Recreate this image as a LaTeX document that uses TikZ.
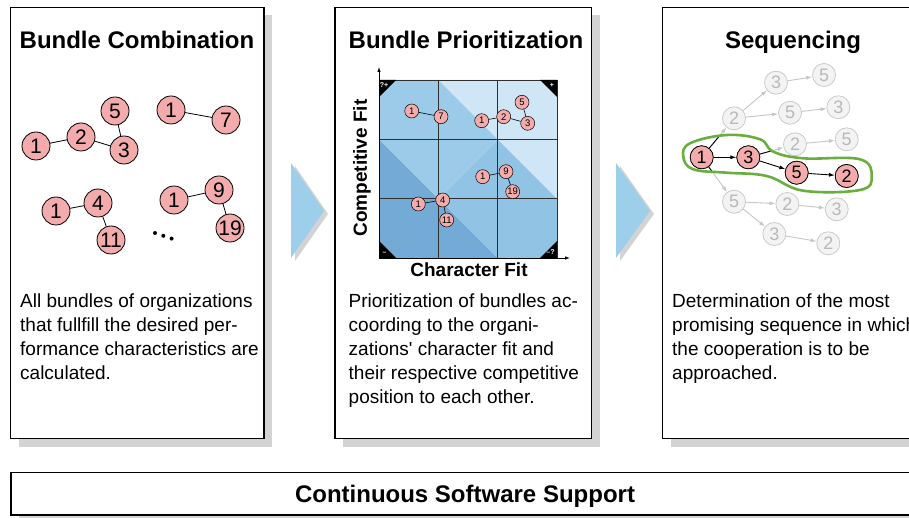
\documentclass[tikz,border=0pt]{standalone}
\usepackage{fontspec}
\setmainfont{Liberation Sans}
\usetikzlibrary{arrows.meta,calc}
\definecolor{shadowgray}{HTML}{D3D3D3}
\definecolor{flowblue}{HTML}{9DCFEB}
\definecolor{nodepink}{HTML}{F3ABAB}
\definecolor{ghostline}{HTML}{C6C6C6}
\definecolor{ghostfill}{HTML}{F3F3F3}
\definecolor{ghosttext}{HTML}{B8B8B8}
\definecolor{pathgreen}{HTML}{6AAE3E}
\definecolor{bandDark}{HTML}{74AAD6}
\definecolor{bandMidA}{HTML}{9CCAE9}
\definecolor{bandMidB}{HTML}{91C3E5}
\definecolor{bandLight}{HTML}{CFE6F6}
\definecolor{gridgray}{HTML}{2E2E2E}
\begin{document}
\begin{tikzpicture}[x=1pt,y=-1pt,
  panel/.style={draw=black,line width=1.4pt,fill=white},
  title/.style={font=\fontsize{24}{28}\selectfont\bfseries,anchor=base,inner sep=0pt},
  body/.style={font=\fontsize{19}{24}\selectfont,align=left,anchor=north west,inner sep=0pt},
  bnode/.style={circle,draw=black,line width=0.8pt,fill=nodepink,minimum size=28pt,inner sep=0pt,font=\fontsize{21}{21}\selectfont},
  mnode/.style={circle,draw=black,line width=0.5pt,fill=nodepink,minimum size=14pt,inner sep=0pt,font=\fontsize{9.5}{9.5}\selectfont},
  snode/.style={circle,draw=black,line width=0.7pt,fill=nodepink,minimum size=23pt,inner sep=0pt,font=\fontsize{18}{18}\selectfont},
  gnode/.style={circle,draw=ghostline,line width=0.7pt,fill=ghostfill,text=ghosttext,minimum size=23pt,inner sep=0pt,font=\fontsize{18}{18}\selectfont},
  link/.style={line width=0.8pt},
  mlink/.style={line width=0.6pt},
  ghostarrow/.style={draw=ghostline,line width=0.9pt,-{Latex[length=6pt,width=4pt]}},
  patharrow/.style={draw=black,line width=0.9pt,-{Latex[length=6pt,width=4pt]}},
  cornerlabel/.style={text=white,font=\fontsize{7}{7}\selectfont\bfseries,inner sep=0pt},
  cornermark/.style={fill=black},
  axislabel/.style={font=\fontsize{19}{19}\selectfont\bfseries,inner sep=0pt},
]
\useasboundingbox (0,0) rectangle (909,518);

% ---------- panels with drop shadows ----------
\fill[shadowgray] (18.5,15.5) rectangle (272,446.5);
\path[panel] (10.5,7.5) rectangle (264,438.5);
\fill[shadowgray] (343,15.5) rectangle (599.5,446.5);
\path[panel] (335,7.5) rectangle (591.5,438.5);
\fill[shadowgray] (670.5,15.5) rectangle (930,446.5);
\path[panel] (662.5,7.5) rectangle (922,438.5);
\fill[shadowgray] (19,480.5) rectangle (930,530);
\path[panel] (11,472.5) rectangle (922,515);

% ---------- flow arrows ----------
\fill[shadowgray] (295,166) -- (328,214) -- (295,261) -- cycle;
\fill[flowblue] (291,163) -- (324,211) -- (291,258) -- cycle;
\fill[shadowgray] (620,166) -- (654,214) -- (620,261) -- cycle;
\fill[flowblue] (616,163) -- (650,211) -- (616,258) -- cycle;

% ---------- titles ----------
\node[title] (t1) at (137,49) {Bundle Combination};
\node[title] (t2) at (466,49) {Bundle Prioritization};
\node[title] (t3) at (793,49) {Sequencing};
\node[title] (t4) at (465,502) {Continuous Software Support};

% ---------- descriptions ----------
\node[body] (d1) at (20,293.5) {All bundles of organizations\\that fullfill the desired per-\\formance characteristics are\\calculated.};
\node[body] (d2) at (348.5,293.5) {Prioritization of bundles ac-\\coording to the organi-\\zations\textquotesingle{} character fit and\\their respective competitive\\position to each other.};
\node[body] (d3) at (672,293.5) {Determination of the most\\promising sequence in which\\the cooperation is to be\\approached.};

% ---------- bundle combination ----------
\node[bnode] (a1)  at (36,146)  {1};
\node[bnode] (a2)  at (81,137)  {2};
\node[bnode] (a5)  at (115,111) {5};
\node[bnode] (a3)  at (124,150) {3};
\node[bnode] (b1)  at (171,110) {1};
\node[bnode] (b7)  at (226,120) {7};
\node[bnode] (c1)  at (56,211)  {1};
\node[bnode] (c4)  at (98,203)  {4};
\node[bnode] (c11) at (111,240) {11};
\node[bnode] (e1)  at (174,200) {1};
\node[bnode] (e9)  at (219,190) {9};
\node[bnode] (e19) at (230,228) {19};
\draw[link] (a1) -- (a2);
\draw[link] (a2) -- (a3);
\draw[link] (a3) -- (a5);
\draw[link] (b1) -- (b7);
\draw[link] (c1) -- (c4);
\draw[link] (c4) -- (c11);
\draw[link] (e1) -- (e9);
\draw[link] (e9) -- (e19);
\fill (155,233) circle (2);
\fill (163.3,235.8) circle (2);
\fill (171.6,238.6) circle (2);

% ---------- prioritization matrix ----------
% bands by character fit + competitive fit
\fill[bandDark] (379,258) -- (497.67,258) -- (379,139.33) -- cycle;
\fill[bandMidB] (497.67,258) -- (557,258) -- (557,198.67) -- (497.67,139.33) -- (438.33,198.67) -- cycle;
\fill[bandMidA] (379,139.33) -- (438.33,198.67) -- (497.67,139.33) -- (438.33,80) -- (379,80) -- cycle;
\fill[bandLight] (557,198.67) -- (557,80) -- (438.33,80) -- cycle;
% grid
\draw[gridgray,line width=0.7pt] (379,80) rectangle (557,258);
\draw[gridgray,line width=0.7pt] (438.33,80) -- (438.33,258) (497.67,80) -- (497.67,258)
  (379,139.33) -- (557,139.33) (379,198.67) -- (557,198.67);
% corner marks
\path[cornermark] (379,80) -- (396,80) -- (379,97) -- cycle;
\path[cornermark] (557,80) -- (540,80) -- (557,97) -- cycle;
\path[cornermark] (379,258) -- (396,258) -- (379,241) -- cycle;
\path[cornermark] (557,258) -- (540,258) -- (557,241) -- cycle;
\node[cornerlabel] (kTL) at (384,85) {?+};
\node[cornerlabel] (kTR) at (552,85) {+};
\node[cornerlabel] (kBL) at (384.5,253) {--};
\node[cornerlabel] (kBR) at (550.5,252.5) {--?};
% axes
\coordinate (org) at (379,258);
\coordinate (ytip) at (379,67);
\coordinate (xtip) at (570,258);
\draw[line width=0.8pt,-{Latex[length=5pt,width=3.5pt]}] (org) -- (ytip);
\draw[line width=0.8pt,-{Latex[length=5pt,width=3.5pt]}] (org) -- (xtip);
\node[axislabel,rotate=90] (ylab) at (362,168) {Competitive Fit};
\node[axislabel] (xlab) at (469,270) {Character Fit};
% bundles in the matrix
\node[mnode] (m1a) at (411.7,111)   {1};
\node[mnode] (m7)  at (441,116.7)   {7};
\node[mnode] (m1b) at (481.7,120.7) {1};
\node[mnode] (m2)  at (503.7,116.7) {2};
\node[mnode] (m5)  at (522,102.3)   {5};
\node[mnode] (m3)  at (527.7,123.3) {3};
\node[mnode] (m1c) at (482.7,176.7) {1};
\node[mnode] (m9)  at (506,171.7)   {9};
\node[mnode] (m19) at (512.7,191.7) {19};
\node[mnode] (m1d) at (418.3,204)   {1};
\node[mnode] (m4)  at (442.7,200)   {4};
\node[mnode] (m11) at (446.7,220)   {11};
\draw[mlink] (m1a) -- (m7);
\draw[mlink] (m1b) -- (m2);
\draw[mlink] (m2) -- (m3);
\draw[mlink] (m3) -- (m5);
\draw[mlink] (m1c) -- (m9);
\draw[mlink] (m9) -- (m19);
\draw[mlink] (m1d) -- (m4);
\draw[mlink] (m4) -- (m11);

% ---------- sequencing tree ----------
\node[snode] (h1) at (701.7,157.3) {1};
\node[snode] (h3) at (748.3,157.3) {3};
\node[snode] (h5) at (796.7,172.7) {5};
\node[snode] (h2) at (846.7,176)   {2};
\node[gnode] (g2a) at (734,118.3)   {2};
\node[gnode] (g3a) at (776,82.7)    {3};
\node[gnode] (g5a) at (824,75)      {5};
\node[gnode] (g5b) at (790,112.7)   {5};
\node[gnode] (g3b) at (838.3,107.3) {3};
\node[gnode] (g2b) at (795,144.3)   {2};
\node[gnode] (g5c) at (846.7,139.3) {5};
\node[gnode] (g5d) at (734,201.7)   {5};
\node[gnode] (g2c) at (787.3,204)   {2};
\node[gnode] (g3c) at (836.7,209.3) {3};
\node[gnode] (g3d) at (774.3,234)   {3};
\node[gnode] (g2d) at (828.3,243.3) {2};
\draw[ghostarrow] (h1) -- (g2a);
\draw[ghostarrow] (g2a) -- (g3a);
\draw[ghostarrow] (g3a) -- (g5a);
\draw[ghostarrow] (g2a) -- (g5b);
\draw[ghostarrow] (g5b) -- (g3b);
\draw[ghostarrow] (h3) -- (g2b);
\draw[ghostarrow] (g2b) -- (g5c);
\draw[ghostarrow] (h1) -- (g5d);
\draw[ghostarrow] (g5d) -- (g2c);
\draw[ghostarrow] (g2c) -- (g3c);
\draw[ghostarrow] (g5d) -- (g3d);
\draw[ghostarrow] (g3d) -- (g2d);
% branch stubs inside the chosen sequence
\draw[black,line width=0.9pt] (h1) -- ($(h1)!0.55!(g2a)$);
\draw[black,line width=0.9pt] (h1) -- ($(h1)!0.33!(g5d)$);
\draw[black,line width=0.9pt] (h3) -- ($(h3)!0.52!(g2b)$);
\draw[patharrow] (h1) -- (h3);
\draw[patharrow] (h3) -- (h5);
\draw[patharrow] (h5) -- (h2);
% outline of the chosen sequence
\draw[pathgreen,line width=2.6pt] plot[smooth cycle,tension=0.65] coordinates {
  (683.3,156.7) (690,143.3) (726.7,135) (760,139.3) (773.3,151.7) (803.3,158.3)
  (860,159.3) (871.7,176.7) (860,190) (803.3,190.7) (766.7,176) (726.7,172.7) (693.3,169.3)};
% redraw chosen nodes on top of the outline
\node[snode] at (h1) {1};
\node[snode] at (h3) {3};
\node[snode] at (h5) {5};
\node[snode] at (h2) {2};
\end{tikzpicture}
\end{document}
